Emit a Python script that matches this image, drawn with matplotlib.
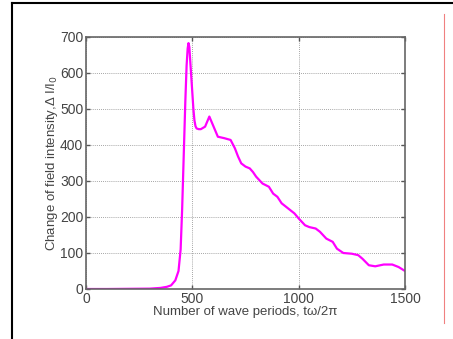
import matplotlib
matplotlib.use("Agg")
import matplotlib.pyplot as plt
from matplotlib.lines import Line2D
import numpy as np

plt.rcParams['font.family'] = ['Liberation Sans', 'DejaVu Sans']

periods = [0, 100, 200, 300, 350, 380, 400, 420, 435, 445, 452, 460, 467, 473, 478, 482,
           486, 490, 495, 500, 505, 510, 515, 520, 530, 540, 560, 570, 580, 590, 600,
           620, 650, 680, 700, 715, 730, 750, 770, 785, 800, 830, 860, 880, 900, 920,
           950, 980, 1000, 1030, 1050, 1080, 1100, 1130, 1160, 1180, 1210, 1250, 1280,
           1300, 1330, 1360, 1400, 1440, 1470, 1500]
intensity = [0, 0, 0.5, 1, 3, 6, 10, 24, 50, 110, 220, 380, 520, 620, 668, 683,
             672, 635, 590, 545, 500, 468, 452, 446, 444, 444, 451, 465, 479, 465, 451,
             423, 419, 414, 391, 368, 349, 340, 335, 325, 312, 293, 284, 265, 256, 238,
             224, 210, 196, 177, 172, 168, 159, 140, 131, 112, 100, 98, 94,
             84, 66, 63, 68, 68, 61, 50]
xticks = [0, 500, 1000, 1500]
yticks = [0, 100, 200, 300, 400, 500, 600, 700]

W, H = 453, 339
fig = plt.figure(figsize=(W / 100, H / 100), dpi=100)
fig.patch.set_facecolor('white')
ax = fig.add_axes([86 / W, 1 - 289 / H, (405 - 86) / W, (289 - 37) / H])

ax.plot(periods, intensity, color='#ff00ff', lw=1.6, solid_joinstyle='round')
ax.set_xlim(0, 1500)
ax.set_ylim(0, 700)
ax.set_xticks(xticks)
ax.set_yticks(yticks)
ax.grid(True, linestyle=(0, (1, 1.5)), color='#888888', lw=0.6)
for s in ax.spines.values():
    s.set_color('#666666')
    s.set_linewidth(1.2)
ax.tick_params(direction='in', length=3, width=1, colors='#555555',
               labelcolor='#444444', labelsize=10, top=True, right=True, pad=2)
ax.set_xlabel('Number of wave periods, t\u03c9/2\u03c0', fontsize=9.5, color='#444444', labelpad=0)
ax.set_ylabel('Change of field intensity,\u0394 I/I$_0$', fontsize=9.5, color='#444444', labelpad=0)

# figure frame lines
fig.add_artist(Line2D([12 / W, 12 / W], [0, 1 - 3 / H], color='black', lw=1.5, transform=fig.transFigure))
fig.add_artist(Line2D([12 / W, 1], [1 - 3 / H, 1 - 3 / H], color='black', lw=1.5, transform=fig.transFigure))
fig.add_artist(Line2D([444 / W, 444 / W], [1 - 323 / H, 1 - 14 / H], color='#f08080', lw=0.8, transform=fig.transFigure))

fig.savefig('out.png', dpi=100)
